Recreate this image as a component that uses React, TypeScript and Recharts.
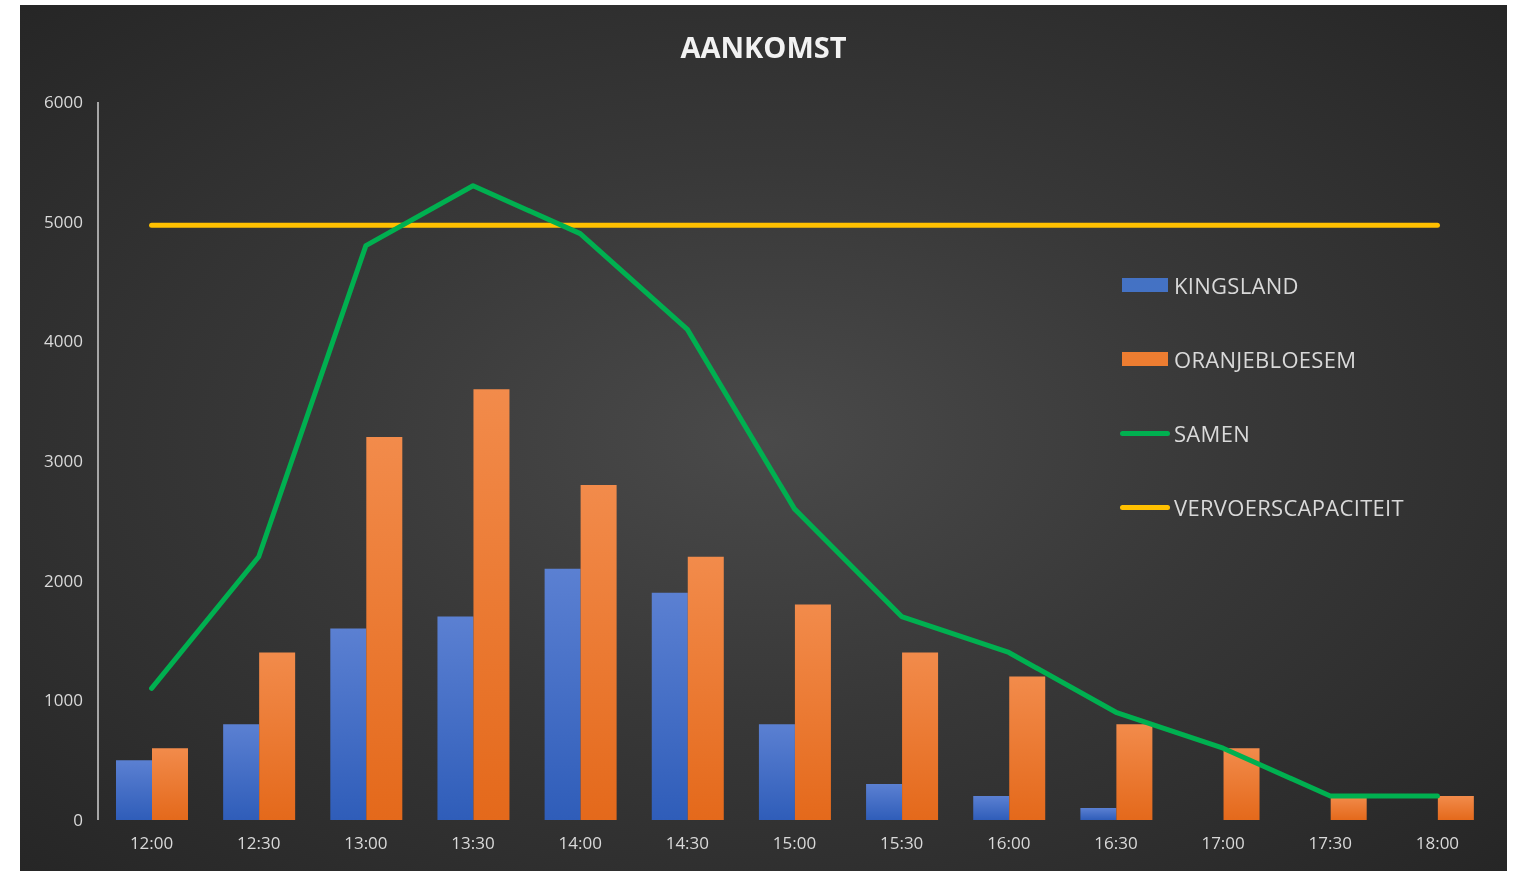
import React from 'react';
import {
  ComposedChart,
  Bar,
  Line,
  XAxis,
  YAxis
} from 'recharts';

const times = ['12:00', '12:30', '13:00', '13:30', '14:00', '14:30', '15:00', '15:30', '16:00', '16:30', '17:00', '17:30', '18:00'];
const kingsland = [500, 800, 1600, 1700, 2100, 1900, 800, 300, 200, 100, 0, 0, 0];
const oranjebloesem = [600, 1400, 3200, 3600, 2800, 2200, 1800, 1400, 1200, 800, 600, 200, 200];
const samen = [1100, 2200, 4800, 5300, 4900, 4100, 2600, 1700, 1400, 900, 600, 200, 200];
const capaciteit = [4970, 4970, 4970, 4970, 4970, 4970, 4970, 4970, 4970, 4970, 4970, 4970, 4970];
const yTicks = [0, 1000, 2000, 3000, 4000, 5000, 6000];

const data = times.map((t, i) => ({
  time: t,
  kingsland: kingsland[i],
  oranjebloesem: oranjebloesem[i],
  samen: samen[i],
  capaciteit: capaciteit[i]
}));

const FONT = '"Open Sans", Calibri, sans-serif';
const TEXT = '#d9d9d9';

const legendItems = [
  { label: 'KINGSLAND', type: 'bar', color: '#4472c4' },
  { label: 'ORANJEBLOESEM', type: 'bar', color: '#ed7d31' },
  { label: 'SAMEN', type: 'line', color: '#00b050' },
  { label: 'VERVOERSCAPACITEIT', type: 'line', color: '#ffc000' }
];

// legend drawn as plain html on top of the chart, so recharts doesn't shrink the plot for it
function ChartLegend() {
  return (
    <div style={{ position: 'absolute', left: 1100, top: 243, fontFamily: FONT }}>
      {legendItems.map((item) => (
        <div key={item.label} style={{ display: 'flex', alignItems: 'center', height: 74 }}>
          {item.type === 'bar' ? (
            <div style={{ width: 46, height: 14, background: item.color, marginLeft: 2, marginRight: 6 }} />
          ) : (
            <div style={{ width: 50, height: 5, borderRadius: 3, background: item.color, marginRight: 4 }} />
          )}
          <span style={{ color: TEXT, fontSize: 22, letterSpacing: 0.3 }}>{item.label}</span>
        </div>
      ))}
    </div>
  );
}

export default function App() {
  return (
    <div
      style={{
        position: 'fixed',
        left: 20,
        top: 5,
        width: 1487,
        height: 866,
        background: 'radial-gradient(ellipse at 50% 50%, #4a4a4a 0%, #383838 45%, #262626 100%)'
      }}
    >
      <div
        style={{
          position: 'absolute',
          top: 22,
          left: 0,
          width: '100%',
          textAlign: 'center',
          fontFamily: FONT,
          fontWeight: 700,
          fontSize: 29,
          color: '#f2f2f2'
        }}
      >
        AANKOMST
      </div>
      <ComposedChart
        width={1487}
        height={866}
        data={data}
        barGap={0}
        barCategoryGap="16%"
        margin={{ top: 97, right: 16, bottom: 21, left: 0 }}
      >
        <defs>
          <linearGradient id="blueGrad" x1="0" y1="0" x2="0" y2="1">
            <stop offset="0%" stopColor="#5b80d2" />
            <stop offset="100%" stopColor="#2f5db9" />
          </linearGradient>
          <linearGradient id="orangeGrad" x1="0" y1="0" x2="0" y2="1">
            <stop offset="0%" stopColor="#f28b4b" />
            <stop offset="100%" stopColor="#e4691b" />
          </linearGradient>
        </defs>
        <XAxis
          dataKey="time"
          height={30}
          axisLine={false}
          tickLine={false}
          tickMargin={11}
          tick={{ fill: TEXT, fontSize: 17, fontFamily: FONT }}
        />
        <YAxis
          width={78}
          domain={[0, 6000]}
          ticks={yTicks}
          axisLine={{ stroke: '#a6a6a6', strokeWidth: 2 }}
          tickLine={false}
          tickSize={0}
          tickMargin={15}
          tick={{ fill: TEXT, fontSize: 17, fontFamily: FONT }}
        />
        <Bar dataKey="kingsland" fill="url(#blueGrad)" barSize={36} isAnimationActive={false} />
        <Bar dataKey="oranjebloesem" fill="url(#orangeGrad)" barSize={36} isAnimationActive={false} />
        <Line
          dataKey="capaciteit"
          type="linear"
          stroke="#ffc000"
          strokeWidth={5}
          strokeLinecap="round"
          dot={false}
          activeDot={false}
          isAnimationActive={false}
        />
        <Line
          dataKey="samen"
          type="linear"
          stroke="#00b050"
          strokeWidth={5}
          strokeLinecap="round"
          strokeLinejoin="round"
          dot={false}
          activeDot={false}
          isAnimationActive={false}
        />
      </ComposedChart>
      <ChartLegend />
    </div>
  );
}
